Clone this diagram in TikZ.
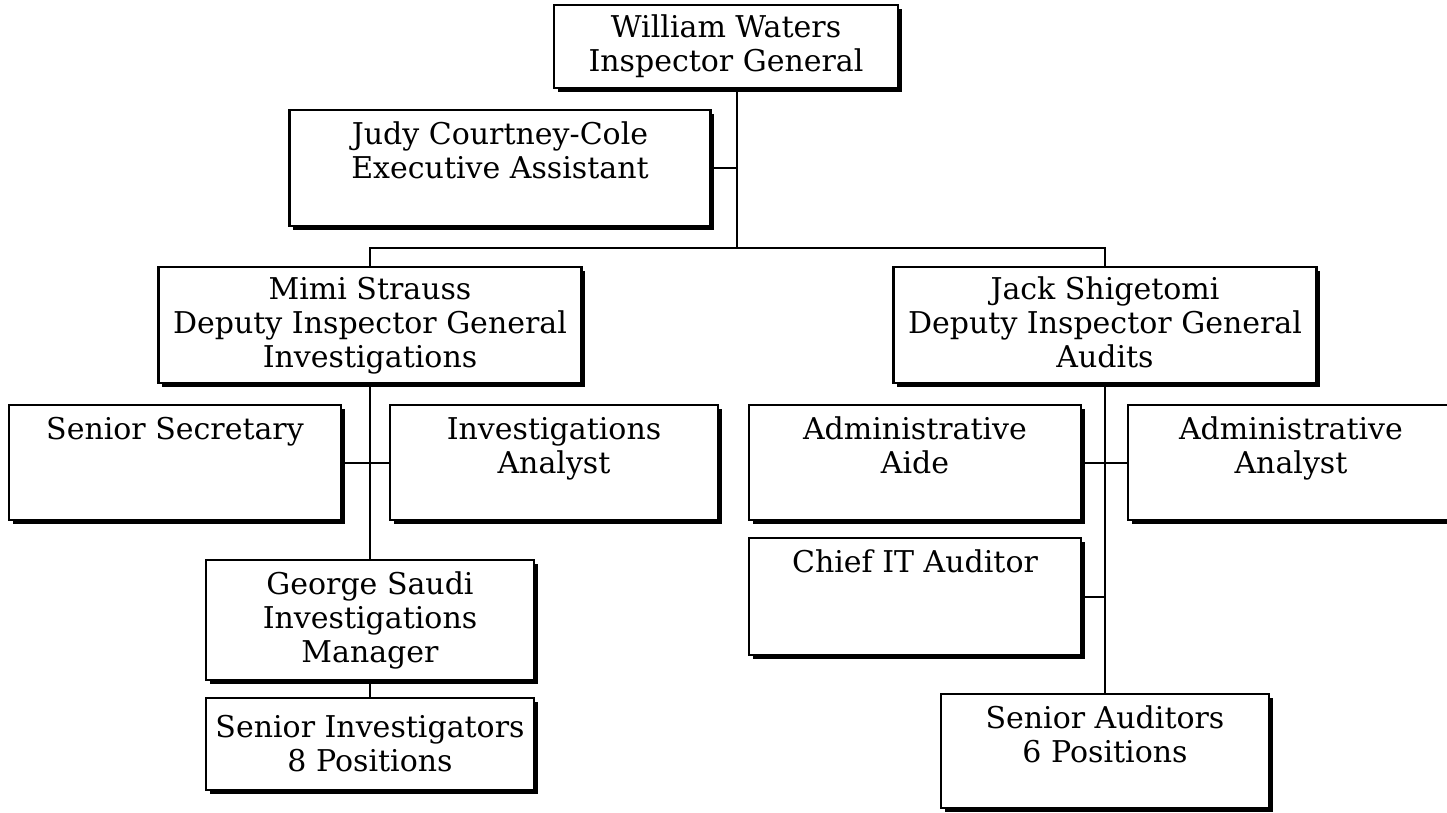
\documentclass[tikz,border=0pt]{standalone}
\usepackage{fontspec}
\setmainfont{DejaVu Serif}
\usetikzlibrary{shadows}

% 枠の中の文字(幅, 高さ, 上寄せ/中央)
\newcommand{\postxt}[4]{\parbox[c][#2][#3]{#1}{\centering #4}}

\tikzset{
    post/.style={draw, line width=1.2pt, fill=white, inner sep=0pt,
        font=\fontsize{15}{17}\selectfont,
        drop shadow={shadow xshift=1.8pt, shadow yshift=-1.8pt, fill=black, opacity=1}},
    link/.style={line width=1pt}
}

\begin{document}
\begin{tikzpicture}[x=0.5pt, y=-0.5pt]
    % 画像の範囲
    \clip (0,0) rectangle (1447,813);

    % 監察総監
    \node[post] (ww) at (726,46.5) {\postxt{172pt}{41.5pt}{c}{William Waters\\Inspector General}};
    \node[post] (jcc) at (500,168) {\postxt{210.5pt}{58pt}{t}{\vspace*{6pt}Judy Courtney-Cole\\Executive Assistant}};

    % 副監察総監(2名)
    \node[post] (mimi) at (370,325) {\postxt{211.5pt}{58pt}{t}{\vspace*{5pt}Mimi Strauss\\Deputy Inspector General\\Investigations}};
    \node[post] (jack) at (1105,325) {\postxt{211.5pt}{58pt}{t}{\vspace*{5pt}Jack Shigetomi\\Deputy Inspector General\\Audits}};

    % 調査部門
    \node[post] (sensec) at (175,462.5) {\postxt{166pt}{57.5pt}{t}{\vspace*{6pt}Senior Secretary}};
    \node[post] (invan) at (554,462.5) {\postxt{164pt}{57.5pt}{t}{\vspace*{6pt}Investigations\\Analyst}};
    \node[post] (george) at (370,620) {\postxt{164pt}{60pt}{c}{George Saudi\\Investigations\\Manager}};
    \node[post] (seninv) at (370,744) {\postxt{164pt}{46pt}{c}{Senior Investigators\\8 Positions}};

    % 監査部門
    \node[post] (admaide) at (915,462.5) {\postxt{166pt}{57.5pt}{t}{\vspace*{6pt}Administrative\\Aide}};
    \node[post] (admanal) at (1291,462.5) {\postxt{163pt}{57.5pt}{t}{\vspace*{6pt}Administrative\\Analyst}};
    \node[post] (chief) at (915,596.5) {\postxt{166pt}{58.5pt}{t}{\vspace*{6pt}Chief IT Auditor}};
    \node[post] (senaud) at (1105,751) {\postxt{164pt}{57pt}{t}{\vspace*{6pt}Senior Auditors\\6 Positions}};

    % 分岐点
    \coordinate (split) at (737,248);

    % 線を描画
    \draw[link] (split) -- (split |- ww.south);
    \draw[link] (jcc.east) -- (jcc.east -| split);
    \draw[link] (mimi.north) |- (split) -| (jack.north);
    \draw[link] (mimi.south) -- (george.north);
    \draw[link] (sensec.east) -- (invan.west);
    \draw[link] (george.south) -- (seninv.north);
    \draw[link] (jack.south) -- (senaud.north);
    \draw[link] (admaide.east) -- (admanal.west);
    \draw[link] (chief.east) -- (chief.east -| jack.south);
\end{tikzpicture}
\end{document}
